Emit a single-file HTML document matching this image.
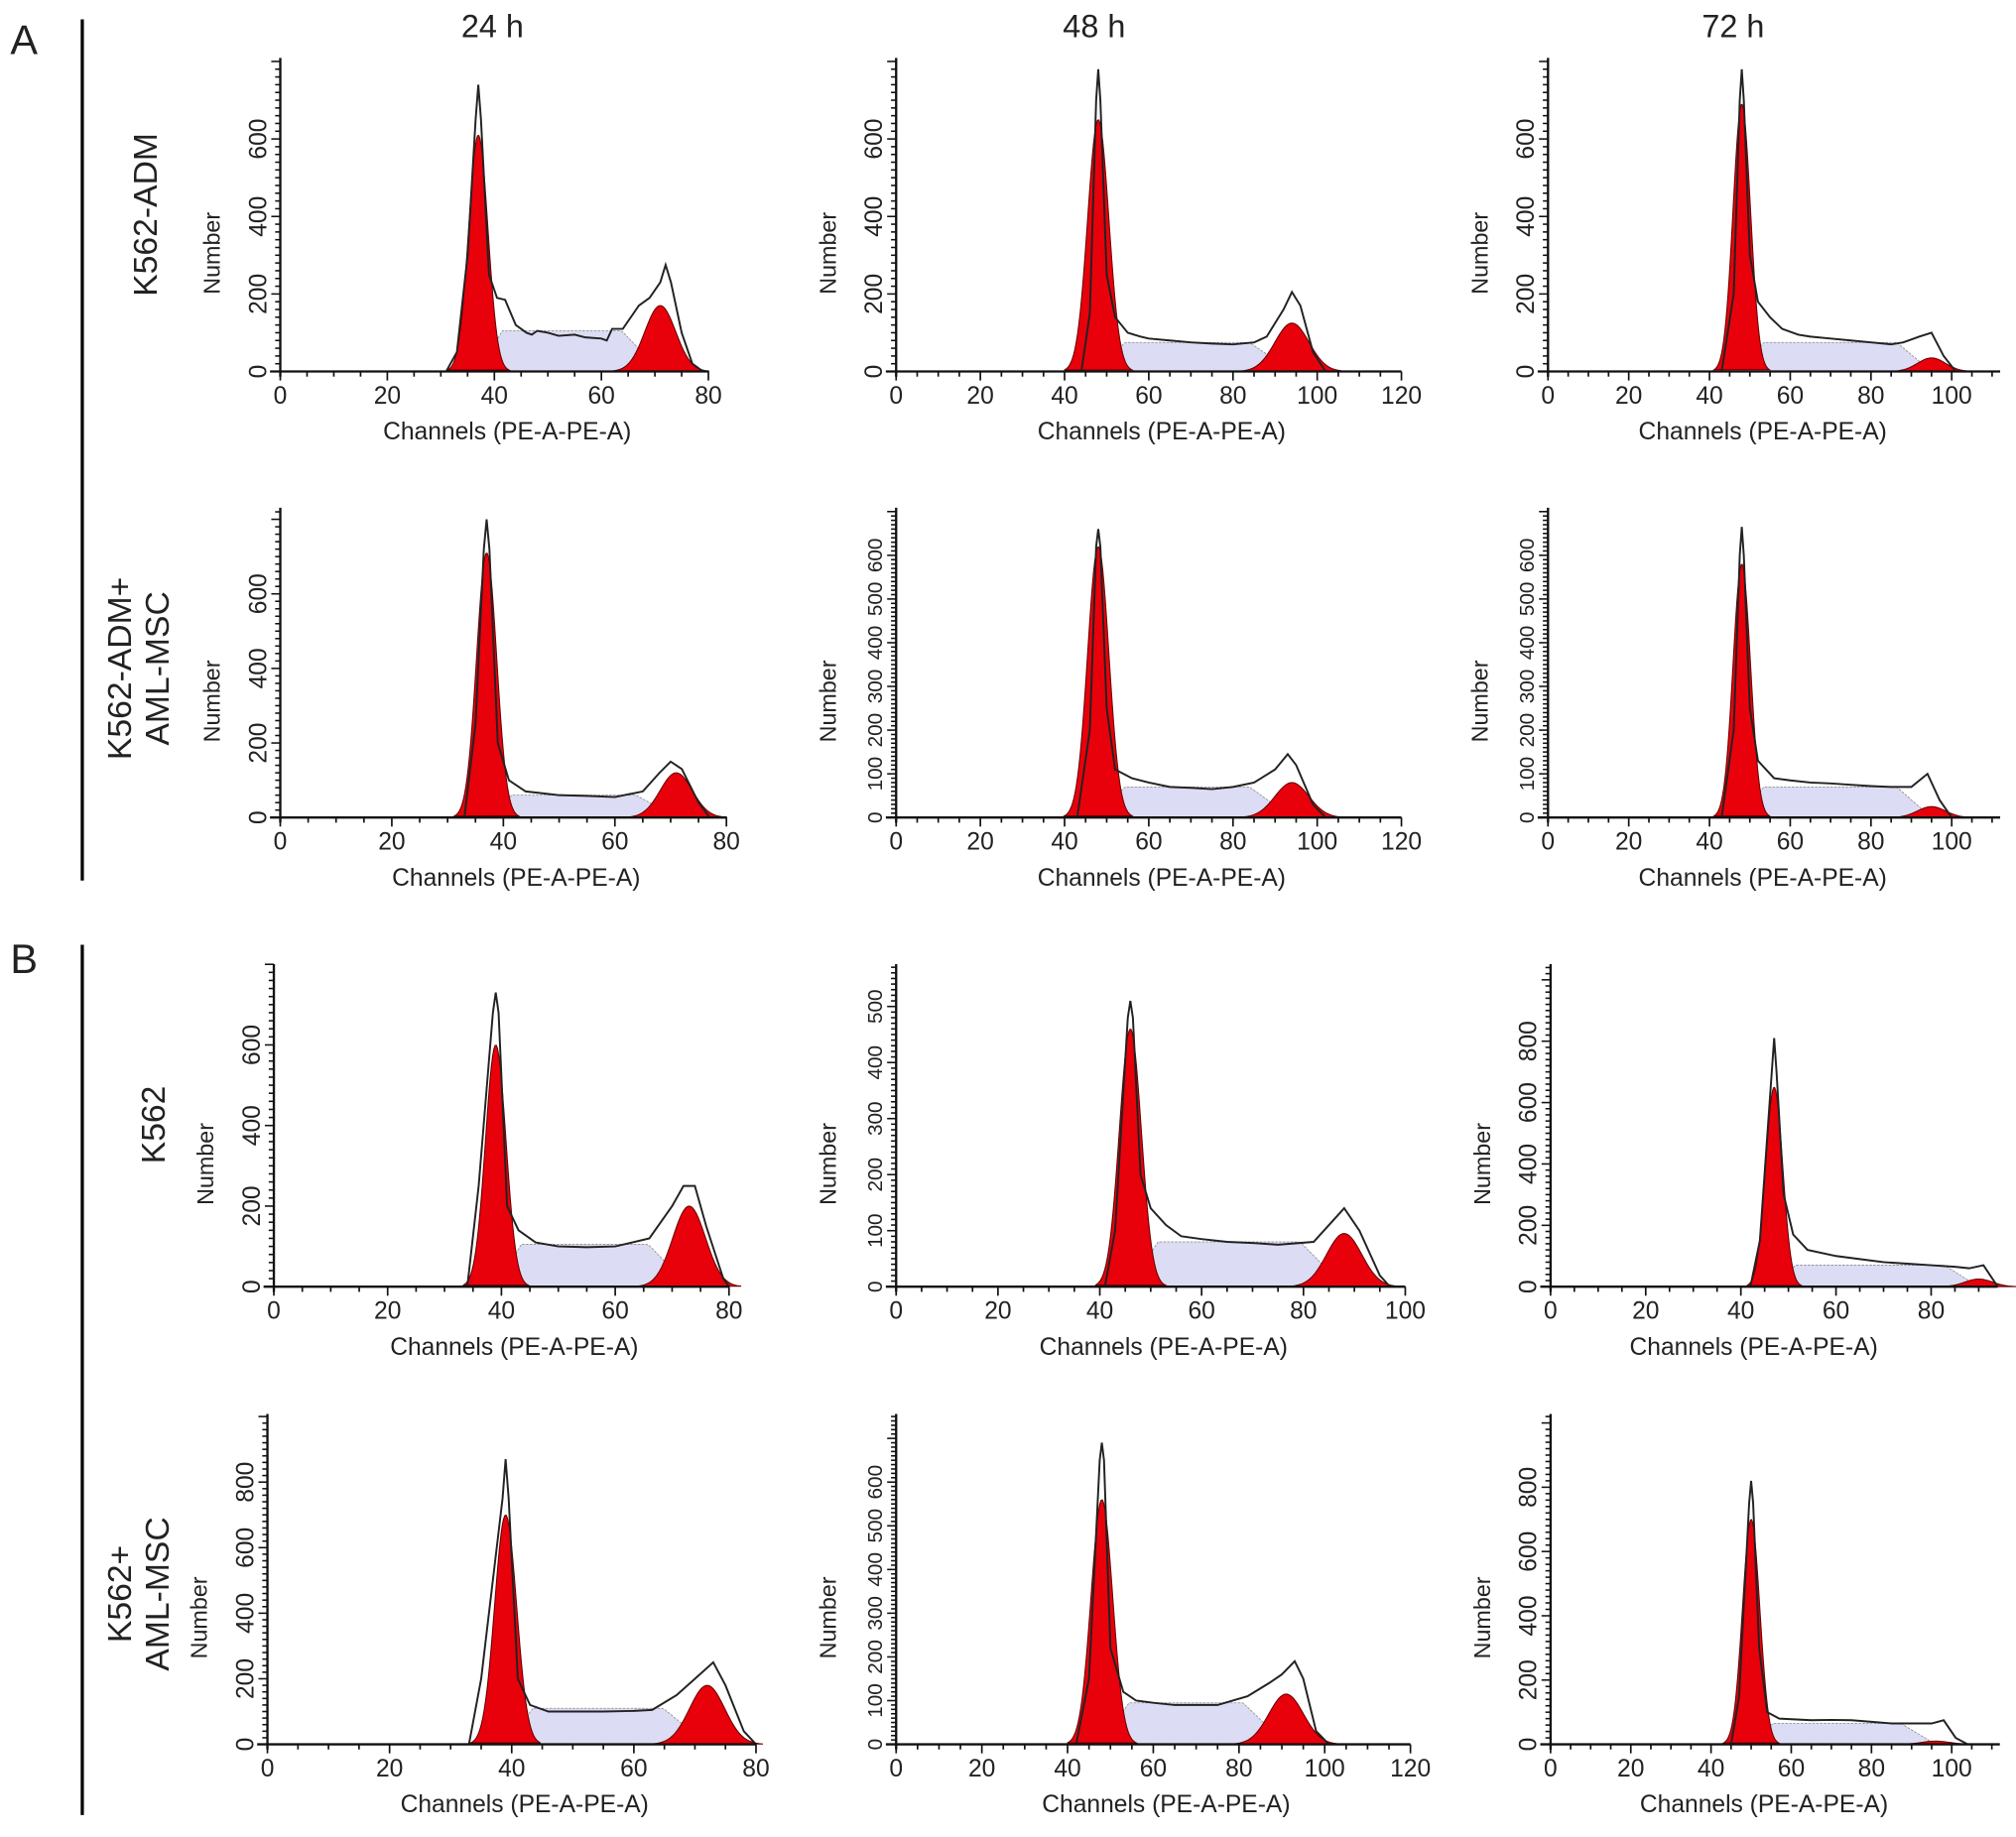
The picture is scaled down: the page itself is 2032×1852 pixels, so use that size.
<!DOCTYPE html>
<html><head><meta charset="utf-8"><style>
html,body{margin:0;padding:0;background:#fff}
svg{display:block}
text{font-family:"Liberation Sans",sans-serif;fill:#222}
</style></head><body>
<svg id="fig" width="2032" height="1852" viewBox="0 0 1568 1429.1" preserveAspectRatio="none" xmlns="http://www.w3.org/2000/svg">
<text x="8" y="42" font-size="32">A</text>
<text x="8" y="757" font-size="32">B</text>
<line x1="64" y1="15" x2="64" y2="685" stroke="#000" stroke-width="2.5"/>
<line x1="64" y1="735" x2="64" y2="1412" stroke="#000" stroke-width="2.5"/>
<text x="383" y="29" font-size="25" text-anchor="middle">24 h</text>
<text x="851" y="29" font-size="25" text-anchor="middle">48 h</text>
<text x="1348" y="29" font-size="25" text-anchor="middle">72 h</text>
<text transform="translate(122,167) rotate(-90)" font-size="26" text-anchor="middle">K562-ADM</text>
<text transform="translate(102,520) rotate(-90)" font-size="26" text-anchor="middle"><tspan x="0" dy="0">K562-ADM+</tspan><tspan x="0" dy="29">AML-MSC</tspan></text>
<text transform="translate(128,875) rotate(-90)" font-size="26" text-anchor="middle">K562</text>
<text transform="translate(102,1240) rotate(-90)" font-size="26" text-anchor="middle"><tspan x="0" dy="0">K562+</tspan><tspan x="0" dy="29">AML-MSC</tspan></text>
</svg>
<script>
// panel axis ranges and ticks
const xMaxTick=[80,120,100,80,120,100,80,100,80,80,120,100];
const xAxisEnd=[80,120,112,80,120,112,80,100,94,80,120,112];
const yTickStep=[200,200,200,200,100,100,200,100,200,200,100,200];
const yTickMax=[600,600,600,600,600,600,600,500,800,800,600,800];
// fitted model parameters
const g1Pos=[37,48,48,37,48,48,39,46,47,39,48,50];
const g1Height=[610,650,690,710,620,580,600,460,650,700,560,700];
const g2Pos=[71,94,95,71,94,95,73,88,90,72,91,96];
const g2Height=[170,125,35,120,80,25,200,95,25,180,115,10];
const sLevel=[105,75,75,60,70,70,105,80,70,110,95,65];
// observed histograms [channel, count]
const observed=[
[[31,0],[33,50],[35,300],[36.5,650],[37,740],[37.5,650],[39,250],[40.5,190],[42,185],[44,120],[45,110],[46,100],[47,95],[48,105],[50,100],[52,92],[55,95],[57,88],[60,85],[61,80],[62,110],[64,110],[67,170],[69,190],[71,230],[72,275],[73,230],[75,100],[77,20],[79,0]],
[[44,0],[46,150],[47.5,700],[48,780],[48.5,700],[50,250],[52,140],[55,100],[58,90],[60,85],[65,80],[70,75],[75,72],[80,70],[85,75],[88,90],[92,160],[94,205],[96,170],[99,50],[102,0]],
[[43,0],[46,200],[47.5,700],[48,780],[48.5,700],[50,300],[52,180],[55,140],[58,110],[62,95],[65,90],[70,85],[75,80],[80,75],[85,70],[88,75],[92,90],[95,100],[98,40],[101,0]],
[[33,0],[35,250],[36.5,720],[37,800],[37.5,720],[39,200],[41,100],[44,70],[47,65],[50,60],[55,58],[60,55],[65,70],[68,120],[70,150],[72,130],[75,40],[77,0]],
[[43,0],[46,200],[47.5,620],[48,660],[48.5,620],[50,250],[52,110],[56,90],[60,80],[65,70],[70,68],[75,65],[80,70],[85,80],[90,110],[93,145],[95,120],[99,30],[102,0]],
[[43,0],[46,200],[47.5,600],[48,665],[48.5,600],[50,250],[52,130],[56,90],[60,85],[65,80],[70,78],[75,75],[80,72],[85,70],[90,70],[94,100],[97,40],[100,0]],
[[34,0],[36,250],[38.5,680],[39,730],[39.5,680],[41,200],[43,140],[46,110],[50,100],[55,98],[60,100],[66,120],[70,200],[72,250],[74,250],[76,150],[79,20],[80,0]],
[[41,0],[43,100],[45.5,480],[46,510],[46.5,480],[48,200],[50,140],[53,110],[56,90],[60,85],[65,80],[70,78],[75,75],[82,80],[86,120],[88,140],[91,100],[95,20],[97,0]],
[[42,0],[44,150],[46.5,700],[47,810],[47.5,700],[49,300],[51,170],[54,120],[60,100],[65,90],[70,80],[75,75],[80,70],[85,65],[88,60],[91,70],[94,0]],
[[33,0],[35,200],[38.5,750],[39,870],[39.5,750],[41,200],[43,120],[46,100],[50,100],[55,100],[60,102],[63,105],[67,150],[70,200],[73,250],[75,180],[78,40],[80,0]],
[[42,0],[45,150],[47.5,650],[48,690],[48.5,650],[50,220],[53,120],[56,100],[60,95],[65,90],[70,90],[75,90],[82,110],[87,140],[90,160],[93,190],[95,150],[98,30],[101,0]],
[[45,0],[47,150],[49.5,750],[50,820],[50.5,750],[52,300],[54,100],[57,80],[65,75],[70,76],[75,75],[80,70],[85,65],[90,65],[95,65],[98,75],[101,20],[104,0]]
];
// layout (display units)
const L=[
{x0:218,x1:551,base:289,top:45,ypx:60.3/200},{x0:697,x1:1090,base:289,top:45,ypx:60.3/200},{x0:1204,x1:1518,base:289,top:45,ypx:60.3/200},
{x0:218,x1:565,base:636,top:395,ypx:58/200},{x0:697,x1:1090,base:636,top:395,ypx:34/100},{x0:1204,x1:1518,base:636,top:395,ypx:34/100},
{x0:213,x1:567,base:1001,top:750,ypx:62.7/200},{x0:697,x1:1093,base:1001,top:750,ypx:43.6/100},{x0:1206,x1:1502,base:1001,top:750,ypx:47.75/200},
{x0:208,x1:588,base:1357,top:1100,ypx:51/200},{x0:697,x1:1097,base:1357,top:1100,ypx:34/100},{x0:1206,x1:1518,base:1357,top:1100,ypx:50/200}
];
const NS="http://www.w3.org/2000/svg";
const svg=document.getElementById('fig');
function mk(t,a,p){const e=document.createElementNS(NS,t);for(const k in a)e.setAttribute(k,a[k]);(p||svg).appendChild(e);return e;}
for(let i=0;i<12;i++){
  const l=L[i];
  const xs=(l.x1-l.x0)/xMaxTick[i];
  const X=v=>l.x0+v*xs;
  const Y=v=>l.base-v*l.ypx;
  const g=mk('g',{});
  
  
  const sd1=(1.5*(xMaxTick[i]/100)+0.3)*1.2, sd2=sd1*1.6;
  // S phase
  let sp=[];
  for(let c=g1Pos[i];c<=g2Pos[i];c+=0.5){
    const r1=Math.min(1,(c-g1Pos[i])/(2.5*sd1)), r2=Math.min(1,(g2Pos[i]-c)/(2.5*sd2));
    sp.push(X(c)+','+Y(sLevel[i]*Math.min(r1,r2)));
  }
  const s=mk('polygon',{points:sp.join(' '),fill:'#dcdcf4',stroke:'#888','stroke-width':0.6,'stroke-dasharray':'2,1'},g);
  
  
  // gaussians
  [[g1Pos[i],g1Height[i],sd1,'g1-peak'],[g2Pos[i],g2Height[i],sd2,'g2-peak']].forEach(q=>{
    let pts=[];
    for(let c=q[0]-3.2*q[2];c<=q[0]+3.2*q[2];c+=q[2]/8){
      pts.push(X(c)+','+Y(q[1]*Math.exp(-((c-q[0])**2)/(2*q[2]*q[2]))));
    }
    const p=mk('polygon',{points:pts.join(' '),fill:'#e8000b',stroke:'#600','stroke-width':0.8},g);
    
    
  });
  // observed line
  const ob=mk('polyline',{points:observed[i].map(d=>X(d[0])+','+Y(d[1])).join(' '),fill:'none',stroke:'#222','stroke-width':1.5},g);
  
  
  // axes
  const xe=X(xAxisEnd[i]);
  mk('line',{x1:l.x0-8,y1:l.base,x2:xe,y2:l.base,stroke:'#111','stroke-width':1.8},g);
  mk('line',{x1:l.x0,y1:l.base+4,x2:l.x0,y2:l.top,stroke:'#111','stroke-width':1.8},g);
  for(let v=0;v<=xAxisEnd[i]+0.01;v+=5){
    const major=v%20===0;
    mk('line',{x1:X(v),y1:l.base,x2:X(v),y2:l.base+(major?7:4),stroke:'#111','stroke-width':1.3},g);
    if(major&&v<=xMaxTick[i]){
      const t=mk('text',{x:X(v),y:l.base+25,'font-size':19,'text-anchor':'middle'},g);
      t.textContent=v;
      
      
    }
  }
  const minor=yTickStep[i]/10;
  for(let v=0;Y(v)>=l.top;v+=minor){
    const major=Math.abs(v/yTickStep[i]-Math.round(v/yTickStep[i]))<1e-6;
    mk('line',{x1:l.x0-(major?7:4),y1:Y(v),x2:l.x0,y2:Y(v),stroke:'#111','stroke-width':1.2},g);
    if(major&&v<=yTickMax[i]+0.01){
      const t=mk('text',{transform:'translate('+(l.x0-11)+','+Y(v)+') rotate(-90)','font-size':yTickStep[i]===100?16:19,'text-anchor':'middle'},g);
      t.textContent=Math.round(v);
      
      
    }
  }
  const yl=mk('text',{transform:'translate('+(l.x0-47)+','+((l.base+l.top)/2+30)+') rotate(-90)','font-size':18,'text-anchor':'middle'},g);
  yl.textContent='Number';
  
  
  const xl=mk('text',{x:(l.x0+X(xMaxTick[i]))/2+10,y:l.base+53,'font-size':19,'text-anchor':'middle'},g);
  xl.textContent='Channels (PE-A-PE-A)';
  
  
}
</script>
</body></html>
